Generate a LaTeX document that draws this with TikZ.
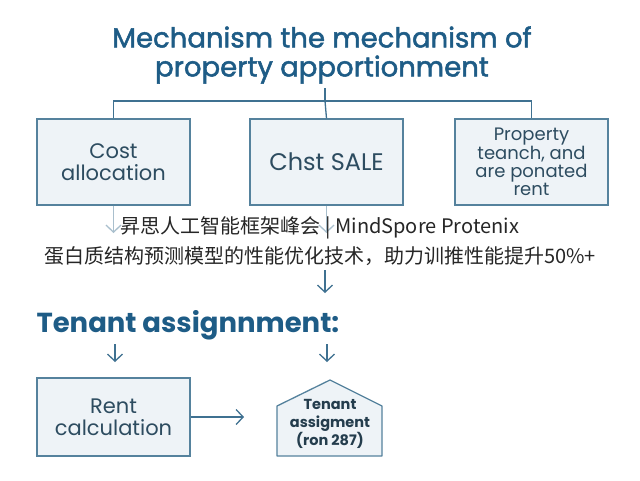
\documentclass[tikz,border=0pt]{standalone}
\usepackage{fontspec}
\setmainfont{Poppins}
\newfontfamily\titlefont[FakeBold=1.8]{Poppins}
\newfontfamily\cjk{Noto Sans CJK SC}
\usetikzlibrary{arrows.meta}
\definecolor{titleblue}{HTML}{1E5C86}
\definecolor{boxline}{HTML}{55829D}
\definecolor{boxfill}{HTML}{EEF3F7}
\definecolor{linkblue}{HTML}{3F7191}
\definecolor{boxtext}{HTML}{2D4C60}
\tikzset{
  titletext/.style={text=titleblue, font=\titlefont\fontsize{27.5}{29}\selectfont, align=center},
  headtext/.style={text=titleblue, font=\bfseries\fontsize{27.5}{30}\selectfont, anchor=west},
  box/.style={draw=boxline, fill=boxfill, line width=1.3pt, minimum width=153pt, minimum height=86pt, align=center, text=boxtext, font=\fontsize{21}{22}\selectfont, inner sep=0pt},
  link/.style={draw=linkblue, line width=1.3pt},
  arr/.style={draw=linkblue, line width=1.3pt, -{Straight Barb[length=7pt,width=15pt,line width=1.3pt]}},
  cjktext/.style={text=black!85, font=\cjk\fontsize{20}{22}\selectfont},
  housetext/.style={text=boxtext!80!black, font=\bfseries\fontsize{14.5}{18}\selectfont, align=center},
}
\begin{document}
\begin{tikzpicture}[x=1pt,y=-1pt]
\useasboundingbox[fill=white] (0,0) rectangle (640,480);
% title
\node[titletext] (title) at (322,55) {Mechanism the mechanism of\\property apportionment};
% top boxes
\node[box] (cost) at (113.5,162) {Cost\\allocation};
\node[box, font=\fontsize{24}{26}\selectfont] (chst) at (326.5,162) {Chst SALE};
\node[box, font=\fontsize{18}{17.7}\selectfont] (prop) at (531.5,162) {Property\\teanch, and\\are ponated\\rent};
% tree connectors
\coordinate (treetop) at (325,88);
\coordinate (treejoin) at (325,101);
\draw[link] (treetop) -- (treejoin);
\draw[link] (cost.north) |- (treejoin) -| (prop.north);
\draw[link] (treejoin) -- (chst.north);
% arrows below top boxes (faded)
\coordinate (costdown) at (113.5,233);
\coordinate (chstdown) at (326.5,233);
\draw[arr, draw=linkblue!45] (cost.south) -- (costdown);
\draw[arr, draw=linkblue!45] (chst.south) -- (chstdown);
% middle arrow
\coordinate (midtop) at (325,270);
\coordinate (midbot) at (325,293);
\draw[arr] (midtop) -- (midbot);
% caption overlay
\node[cjktext] (cap1) at (320,228) {昇思人工智能框架峰会 | MindSpore Protenix};
\node[cjktext] (cap2) at (320,256) {蛋白质结构预测模型的性能优化技术，助力训推性能提升50\%+};
% tenant heading
\node[headtext] (head) at (33,325) {Tenant assignnment:};
\coordinate (la1) at (115,344);
\coordinate (la2) at (115,362);
\coordinate (ra1) at (327,344);
\coordinate (ra2) at (327,362);
\draw[arr] (la1) -- (la2);
\draw[arr] (ra1) -- (ra2);
% bottom boxes
\node[box, minimum height=78pt] (rent) at (113.5,417) {Rent\\calculation};
\coordinate (hbl) at (277,456);
\coordinate (hbr) at (382,456);
\coordinate (hsr) at (382,406);
\coordinate (hap) at (330,380);
\coordinate (hsl) at (277,406);
\fill[boxfill] (hbl) -- (hbr) -- (hsr) -- (hap) -- (hsl) -- cycle;
\draw[boxline, line width=1.3pt, line join=round] (hbl) -- (hbr) -- (hsr) -- (hap) -- (hsl) -- cycle;
\node[housetext] (tenant) at (330,424) {Tenant\\assigment\\(ron 287)};
\coordinate (rentend) at (244,417);
\draw[arr] (rent.east) -- (rentend);
\end{tikzpicture}
\end{document}
